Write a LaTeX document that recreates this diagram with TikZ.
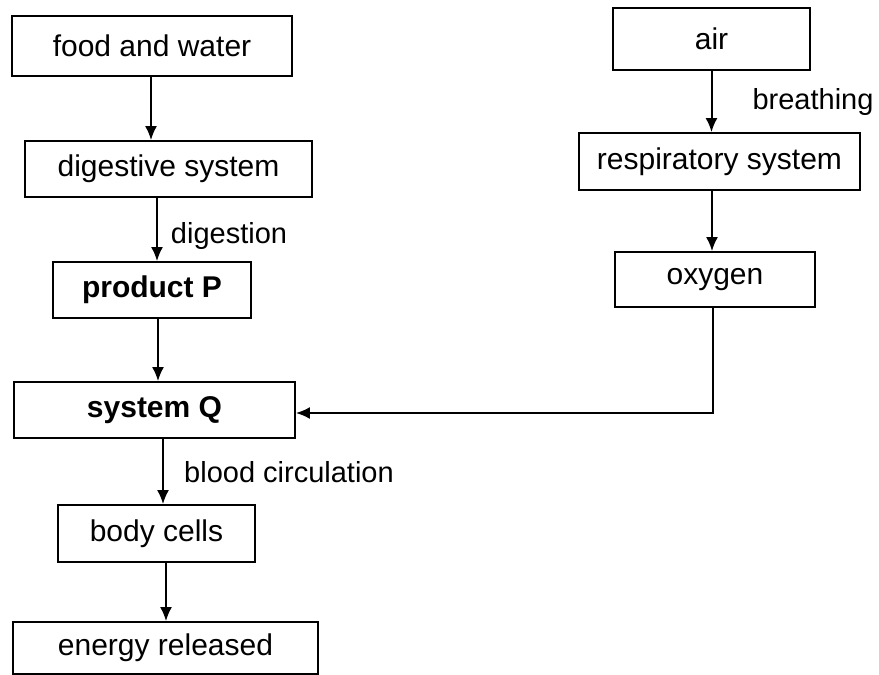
\documentclass[tikz,border=0pt]{standalone}
\usepackage{fontspec}
\setmainfont{Liberation Sans}
\usetikzlibrary{arrows.meta}
\begin{document}
\begin{tikzpicture}[x=1pt,y=-1pt,
  box/.style={draw,line width=1.8pt,inner sep=0pt,font=\fontsize{30}{34}\selectfont},
  lbl/.style={inner sep=0pt,font=\fontsize{29}{34}\selectfont},
  arr/.style={line width=2pt,-{Latex[length=14pt,width=12pt]}}]
\useasboundingbox (0,0) rectangle (879,675);
\node[box,minimum width=280pt,minimum height=60pt] (food) at (152,46) {food and water};
\node[box,minimum width=287pt,minimum height=56pt] (dig) at (168.5,169) {digestive system};
\node[box,minimum width=198pt,minimum height=56pt] (prod) at (152,290) {\bfseries product P};
\node[box,minimum width=281pt,minimum height=56pt] (sysq) at (154.5,410) {\bfseries system Q};
\node[box,minimum width=197pt,minimum height=57pt] (body) at (156.5,533.5) {body cells};
\node[box,minimum width=305pt,minimum height=52pt] (energy) at (165.5,648) {energy released};
\node[box,minimum width=197pt,minimum height=62pt] (air) at (711.5,39) {air};
\node[box,minimum width=281pt,minimum height=57pt] (resp) at (719.5,161.5) {respiratory system};
\node[box,minimum width=200pt,minimum height=55pt] (oxy) at (715,279.5) {oxygen};
\node[lbl] (ldig) at (229,236) {digestion};
\node[lbl] (lbre) at (813,102) {breathing};
\node[lbl] (lblood) at (289,472) {blood circulation};
\draw[arr] ([xshift=-1pt]food.south) -- ([xshift=-1pt]food.south |- dig.north);
\draw[arr] ([xshift=5pt]prod.north |- dig.south) -- ([xshift=5pt]prod.north);
\draw[arr] ([xshift=6pt]prod.south) -- ([xshift=6pt]prod.south |- sysq.north);
\draw[arr] ([xshift=6.5pt]body.north |- sysq.south) -- ([xshift=6.5pt]body.north);
\draw[arr] ([xshift=9.5pt]body.south) -- ([xshift=9.5pt]body.south |- energy.north);
\draw[arr] (air.south) -- (air.south |- resp.north);
\draw[arr] ([xshift=-3pt]oxy.north |- resp.south) -- ([xshift=-3pt]oxy.north);
\draw[arr] ([xshift=-2pt]oxy.south) |- ([yshift=-3pt]sysq.east);
\end{tikzpicture}
\end{document}
